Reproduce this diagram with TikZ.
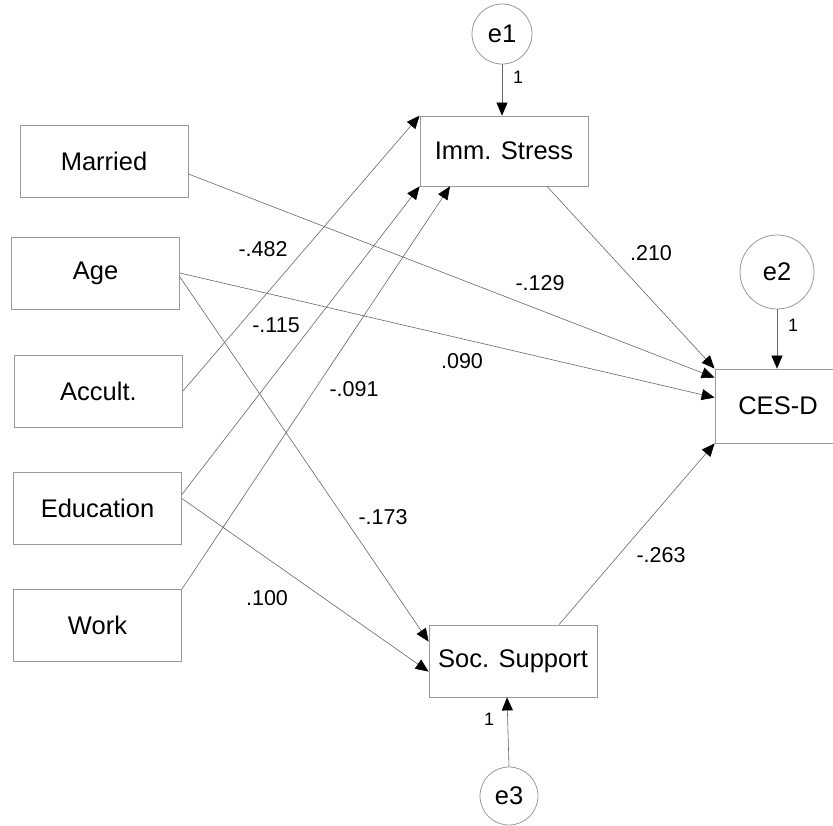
\documentclass[tikz,border=0pt]{standalone}
\usepackage{fontspec}
\setmainfont{Liberation Sans}
\usetikzlibrary{arrows.meta}
\tikzset{
  varbox/.style={draw=gray!80, line width=0.8pt, rectangle, inner sep=0pt, minimum width=168pt, minimum height=72pt, font=\fontsize{25.5}{30}\selectfont},
  errcirc/.style={draw=gray!80, line width=0.8pt, circle, inner sep=0pt, font=\fontsize{25.5}{30}\selectfont},
  path/.style={draw=gray!80!black, line width=0.6pt, -{Triangle[length=13pt,width=11pt,color=black]}},
  coef/.style={font=\fontsize{21.5}{25}\selectfont},
  one/.style={font=\fontsize{18}{20}\selectfont}
}
\begin{document}
\begin{tikzpicture}[x=1pt, y=-1pt]
	\useasboundingbox (0,0) rectangle (833,825);
	
	\node[varbox] (married) at (104, 161) {Married};
	\node[varbox] (age) at (95.5, 273) {Age};
	\node[varbox] (accult) at (98.5, 391) {Accult.};
	\node[varbox] (education) at (97.5, 508.5) {Education};
	\node[varbox] (work) at (97.5, 625.5) {Work};
	
	\node[varbox, minimum height=70pt] (imm) at (504, 151) {Imm. Stress};
	\node[varbox] (soc) at (513, 661) {Soc. Support};
	\node[varbox, minimum width=126pt, minimum height=74pt] (cesd) at (778, 406) {CES-D};
	
	\node[errcirc, minimum size=60pt] (e1) at (502, 34) {e1};
	\node[errcirc, minimum size=74pt] (e2) at (777, 272) {e2};
	\node[errcirc, minimum size=58pt] (e3) at (509, 796) {e3};
	
	% paths into Imm. Stress
	\draw[path] (accult.east) -- (imm.north west);
	\draw[path] ([yshift=14pt]education.east) -- (imm.south west);
	\draw[path] (work.north east) -- ([xshift=-54pt]imm.south);
	
	% paths into Soc. Support
	\draw[path] ([yshift=-4pt]age.east) -- ([yshift=-17pt]soc.north west);
	\draw[path] ([yshift=10pt]education.east) -- ([yshift=-47pt]soc.north west);
	
	% paths into CES-D
	\draw[path] ([yshift=-13pt]married.east) -- ([yshift=-9pt]cesd.north west);
	\draw[path] (age.east) -- ([yshift=-29pt]cesd.north west);
	\draw[path] ([xshift=43pt]imm.south) -- (cesd.north west);
	\draw[path] ([xshift=46pt]soc.north) -- (cesd.south west);
	
	% error terms
	\draw[path] (e1.south) -- (e1.south |- imm.north);
	\draw[path] (e2.south) -- (e2.south |- cesd.north);
	\draw[path] (e3.north) -- ([xshift=-6pt]soc.south);
	
	\node[one] (l1) at (518, 77) {1};
	\node[one] (l2) at (793, 325) {1};
	\node[one] (l3) at (489, 719) {1};
	
	\node[coef] (c482) at (263, 249) {-.482};
	\node[coef] (c115) at (276, 325) {-.115};
	\node[coef] (c091) at (354, 389) {-.091};
	\node[coef] (c129) at (540, 283) {-.129};
	\node[coef] (c210) at (651, 253) {.210};
	\node[coef] (c090) at (462, 361) {.090};
	\node[coef] (c173) at (383, 517) {-.173};
	\node[coef] (c263) at (661, 555) {-.263};
	\node[coef] (c100) at (267, 598) {.100};
\end{tikzpicture}
\end{document}
